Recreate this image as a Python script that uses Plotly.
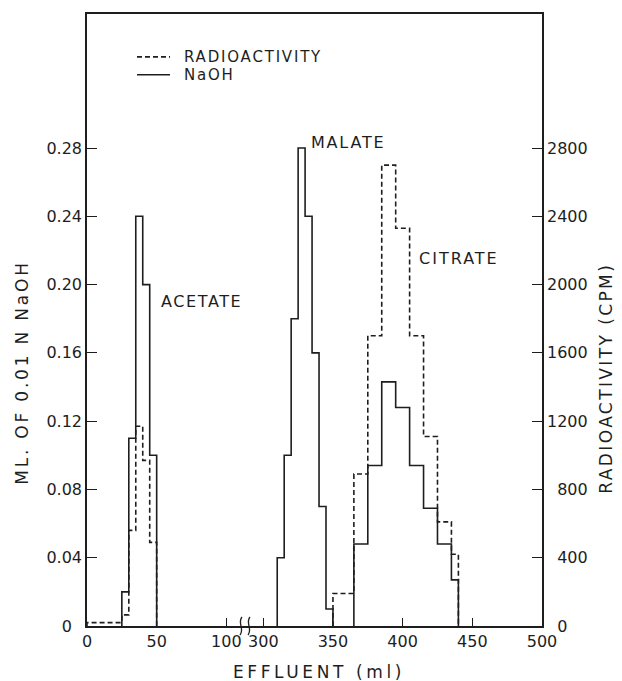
import plotly.graph_objects as go

# ---------------- data ----------------
# NaOH titration (ml of 0.01 N NaOH), step histogram: bin edges (ml effluent) and values
naoh_acetate_edges = [25, 30, 35, 40, 45, 50]
naoh_acetate_vals = [0.02, 0.11, 0.24, 0.20, 0.10]
naoh_malate_edges = [310, 315, 320, 325, 330, 335, 340, 345, 350]
naoh_malate_vals = [0.04, 0.10, 0.18, 0.28, 0.24, 0.16, 0.07, 0.01]
naoh_citrate_edges = [365, 375, 385, 395, 405, 415, 425, 435, 440]
naoh_citrate_vals = [0.048, 0.094, 0.143, 0.128, 0.094, 0.069, 0.048, 0.027]

# Radioactivity (CPM), step histogram
rad_acetate_edges = [0, 25, 30, 35, 40, 45, 50]
rad_acetate_vals = [20, 65, 560, 1170, 970, 490]
rad_citrate_edges = [350, 365, 375, 385, 395, 405, 415, 425, 435, 440]
rad_citrate_vals = [190, 890, 1700, 2700, 2330, 1700, 1110, 610, 420]

x_tick_labels = [0, 50, 100, 300, 350, 400, 450, 500]
y_left_ticks = [0, 0.04, 0.08, 0.12, 0.16, 0.20, 0.24, 0.28]
y_left_labels = ["0", "0.04", "0.08", "0.12", "0.16", "0.20", "0.24", "0.28"]
y_right_ticks = [0, 400, 800, 1200, 1600, 2000, 2400, 2800]

# ---------------- broken x axis (100 -> 300) ----------------
BREAK_LO, BREAK_HI, GAP = 100, 300, 26.5


def disp(x):
    return x if x <= BREAK_LO else x - (BREAK_HI - BREAK_LO) + GAP


def steps(segments):
    xs, ys = [], []
    for edges, vals in segments:
        xs += [disp(edges[0])] + [disp(e) for e in edges]
        ys += [0] + list(vals) + [0]
        xs.append(None)
        ys.append(None)
    return xs, ys


INK = "#1e1e1e"
FONT = "DejaVu Sans"
FIG_SP = "\u2007"  # figure space, used to right-align tick labels like the original

nx, ny = steps([(naoh_acetate_edges, naoh_acetate_vals),
                (naoh_malate_edges, naoh_malate_vals),
                (naoh_citrate_edges, naoh_citrate_vals)])
rx, ry = steps([(rad_acetate_edges, rad_acetate_vals),
                (rad_citrate_edges, rad_citrate_vals)])

left_text = [t + (FIG_SP if t == "0" else "") for t in y_left_labels]
right_text = []
for v in y_right_ticks:
    s = str(v)
    if v == 0:
        right_text.append(FIG_SP + s)
    else:
        right_text.append(FIG_SP * (4 - len(s)) + s)

fig = go.Figure()
fig.add_trace(go.Scatter(x=rx, y=ry, mode="lines", line_shape="hv", yaxis="y2",
                         name="RADIOACTIVITY", showlegend=False,
                         line=dict(color=INK, width=1.6, dash="5px,3px")))
fig.add_trace(go.Scatter(x=nx, y=ny, mode="lines", line_shape="hv",
                         name="NaOH", showlegend=False,
                         line=dict(color=INK, width=1.6)))

YMAX = 0.3585
XMAX = disp(500)

fig.update_layout(
    width=622, height=681,
    margin=dict(l=87, r=80, t=12, b=55),
    paper_bgcolor="white", plot_bgcolor="white",
    font=dict(family=FONT, size=16, color=INK),
    xaxis=dict(range=[0, XMAX], tickvals=[disp(v) for v in x_tick_labels],
               ticktext=[str(v) for v in x_tick_labels],
               ticks="inside", ticklen=8, tickwidth=1.3, tickcolor=INK,
               showline=True, linecolor=INK, linewidth=1.6, mirror=True,
               showgrid=False, zeroline=False,
               tickfont=dict(family=FONT, size=16, color=INK)),
    yaxis=dict(range=[0, YMAX], tickvals=y_left_ticks, ticktext=left_text,
               ticks="inside", ticklen=10, tickwidth=1.3, tickcolor=INK,
               showline=True, linecolor=INK, linewidth=1.6,
               showgrid=False, zeroline=False,
               tickfont=dict(family=FONT, size=16, color=INK)),
    yaxis2=dict(range=[0, YMAX * 10000], overlaying="y", side="right",
                tickvals=y_right_ticks, ticktext=right_text,
                ticks="inside", ticklen=10, tickwidth=1.3, tickcolor=INK,
                showline=True, linecolor=INK, linewidth=1.6,
                showgrid=False, zeroline=False,
                tickfont=dict(family=FONT, size=16, color=INK)),
)


def sp(text, ls):
    return f'<span style="letter-spacing:{ls}px">{text}</span>'


def px2paper(px, py):
    return (px - 87) / 455.0, (626 - py) / 614.0


annots = [
    dict(text=sp("ACETATE", 1.6), x=disp(52), y=0.19, xref="x", yref="y", xanchor="left", yanchor="middle"),
    dict(text=sp("MALATE", 1.8), x=disp(332.5), y=0.283, xref="x", yref="y", xanchor="left", yanchor="middle"),
    dict(text=sp("CITRATE", 2), x=disp(410), y=0.215, xref="x", yref="y", xanchor="left", yanchor="middle"),
]
# axis titles
lx, ly = px2paper(22, 372)
rx_, ry_ = px2paper(606, 378)
bx, by = px2paper(319, 672)
annots += [
    dict(text=sp("ML. OF 0.01 N NaOH", 2.8), x=lx, y=ly, xref="paper", yref="paper", textangle=-90,
         xanchor="center", yanchor="middle", font=dict(size=17)),
    dict(text=sp("RADIOACTIVITY (CPM)", 2.4), x=rx_, y=ry_, xref="paper", yref="paper", textangle=-90,
         xanchor="center", yanchor="middle", font=dict(size=17)),
    dict(text=sp("EFFLUENT (ml)", 3.6), x=bx, y=by, xref="paper", yref="paper",
         xanchor="center", yanchor="middle", font=dict(size=17)),
]
# legend (manual)
L1, L2 = 55, 73
t1x, t1y = px2paper(182, L1)
t2x, t2y = px2paper(182, L2)
annots += [
    dict(text=sp("RADIOACTIVITY", 1.8), x=t1x, y=t1y, xref="paper", yref="paper", xanchor="left",
         yanchor="middle", font=dict(size=15)),
    dict(text=sp("NaOH", 1.8), x=t2x, y=t2y, xref="paper", yref="paper", xanchor="left",
         yanchor="middle", font=dict(size=15)),
]
for a in annots:
    a["showarrow"] = False
fig.update_layout(annotations=annots)

shapes = []
a0, a1 = px2paper(137, L1), px2paper(170, L1)
shapes.append(dict(type="line", xref="paper", yref="paper", x0=a0[0], y0=a0[1], x1=a1[0], y1=a1[1],
                   line=dict(color=INK, width=1.6, dash="5px,3px")))
b0, b1 = px2paper(137, L2), px2paper(170, L2)
shapes.append(dict(type="line", xref="paper", yref="paper", x0=b0[0], y0=b0[1], x1=b1[0], y1=b1[1],
                   line=dict(color=INK, width=1.6)))
# axis break mark
for cx in (241, 249):
    p = [px2paper(cx - 1, 635), px2paper(cx + 4, 629), px2paper(cx - 4, 623), px2paper(cx + 1, 617)]
    path = f"M {p[0][0]},{p[0][1]} C {p[1][0]},{p[1][1]} {p[2][0]},{p[2][1]} {p[3][0]},{p[3][1]}"
    shapes.append(dict(type="path", xref="paper", yref="paper", path=path,
                       line=dict(color=INK, width=1.3)))
fig.update_layout(shapes=shapes)

fig.write_html("out.html")
